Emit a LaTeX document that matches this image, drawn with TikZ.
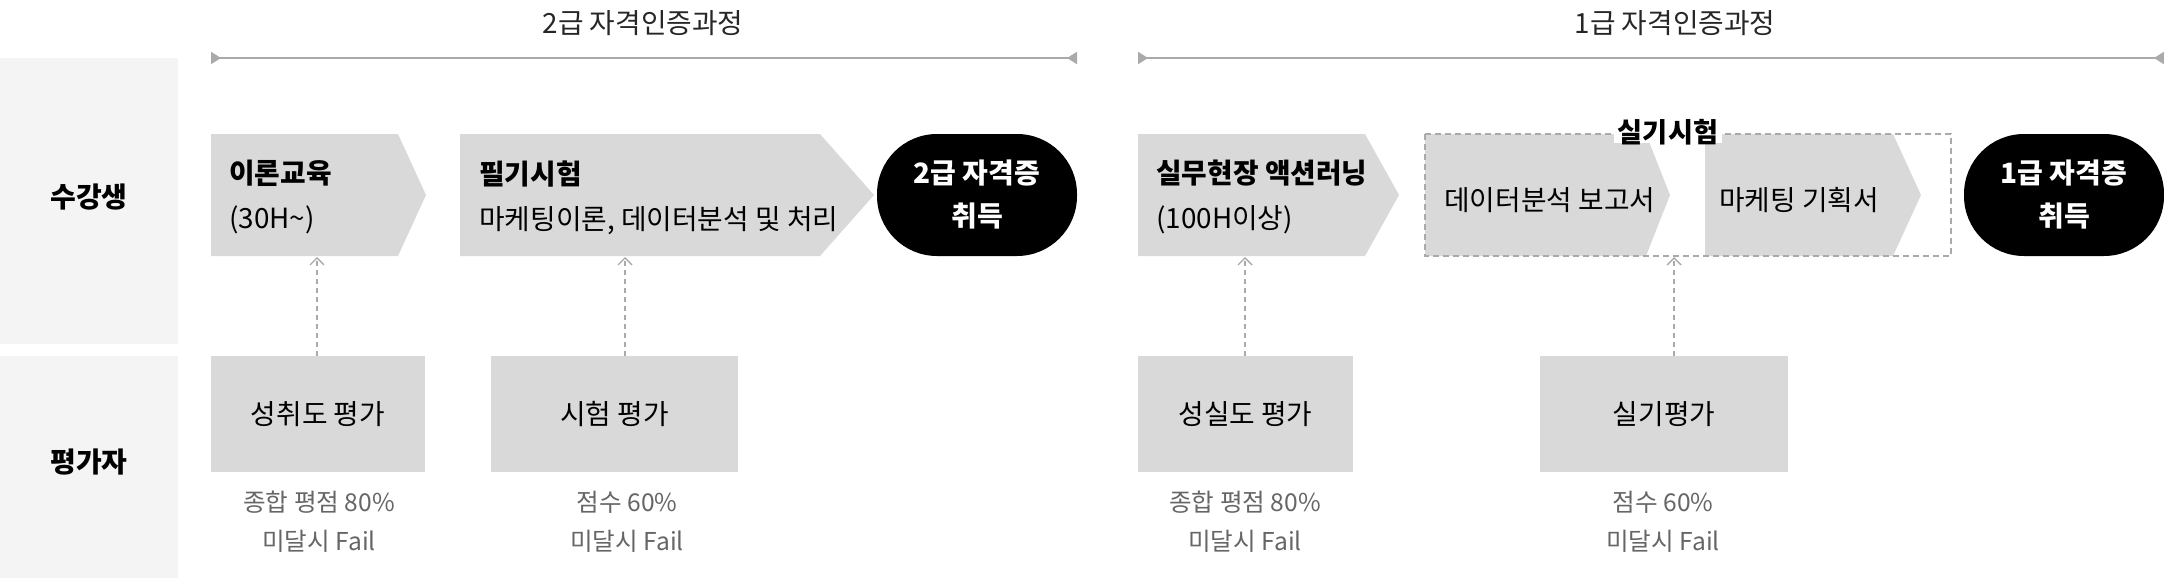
\documentclass[tikz,border=0pt]{standalone}
\usepackage{fontspec}
\setmainfont{Noto Sans CJK KR}
\usetikzlibrary{arrows.meta}
\definecolor{panelgray}{HTML}{F4F4F4}
\definecolor{stepgray}{HTML}{D9D9D9}
\definecolor{linegray}{HTML}{AAAAAA}
\definecolor{notegray}{HTML}{666666}
\begin{document}
\begin{tikzpicture}[x=0.5pt,y=-0.5pt,
   phase/.style={font=\fontsize{13.9}{16}\selectfont,text=black!85},
   rowlabel/.style={font=\fontsize{14}{16}\selectfont\bfseries},
   steptext/.style={anchor=west,align=left,inner sep=0pt,font=\fontsize{13.9}{22.5}\selectfont},
   goal/.style={fill=black,text=white,rounded corners=30pt,minimum width=100pt,minimum height=61pt,
     align=center,inner sep=0pt,font=\fontsize{14}{21.5}\selectfont\bfseries},
   evalbox/.style={fill=stepgray,minimum height=58pt,inner sep=0pt,font=\fontsize{13.9}{16}\selectfont},
   note/.style={align=center,text=notegray,inner sep=0pt,font=\fontsize{12.3}{19.5}\selectfont},
   span/.style={draw=linegray,line width=1pt,
     {Triangle[reversed,length=5pt,width=6pt]}-{Triangle[reversed,length=5pt,width=6pt]}},
   dasharrow/.style={draw=linegray,line width=0.7pt,dash pattern=on 2.5pt off 2pt,
     -{Straight Barb[length=3.5pt,width=7pt]}}]
   \useasboundingbox (0,0) rectangle (2164,578);

   \fill[panelgray] (0,58) rectangle (178,344);
   \fill[panelgray] (0,356) rectangle (178,578);
   \node[rowlabel] (student) at (89,197) {수강생};
   \node[rowlabel] (grader) at (89,462) {평가자};

   \node[phase] (phase2) at (643,23) {2급 자격인증과정};
   \node[phase] (phase1) at (1675,23) {1급 자격인증과정};
   \coordinate (span2a) at (211,58);
   \coordinate (span2b) at (1077,58);
   \coordinate (span1a) at (1138,58);
   \coordinate (span1b) at (2164,58);
   \draw[span] (span2a) -- (span2b);
   \draw[span] (span1a) -- (span1b);

   \fill[stepgray] (211,134) -- (398,134) -- (426,195) -- (398,256) -- (211,256) -- cycle;
   \fill[stepgray] (460,134) -- (820,134) -- (874,195) -- (820,256) -- (460,256) -- cycle;
   \fill[stepgray] (1138,134) -- (1365,134) -- (1399,195) -- (1365,256) -- (1138,256) -- cycle;
   \fill[stepgray] (1425,134) -- (1646,134) -- (1670,195) -- (1646,256) -- (1425,256) -- cycle;
   \fill[stepgray] (1705,134) -- (1893,134) -- (1921,195) -- (1893,256) -- (1705,256) -- cycle;
   \draw[linegray,line width=1pt,dash pattern=on 3pt off 2pt] (1425,134) rectangle (1951,256);
   \node[font=\fontsize{13.6}{16}\selectfont\bfseries,fill=white,inner xsep=2pt,inner ysep=0pt,
     text depth=0pt] (practical) at (1668,131) {실기시험};

   \node[steptext] (theory) at (229,197) {\textbf{이론교육}\\(30H\textasciitilde)};
   \node[steptext] (written) at (479,198) {\textbf{필기시험}\\마케팅이론, 데이터분석 및 처리};
   \node[steptext] (field) at (1156,197) {\textbf{실무현장 액션러닝}\\(100H이상)};
   \node[steptext] (report) at (1444,200) {데이터분석 보고서};
   \node[steptext] (plan) at (1719,200) {마케팅 기획서};

   \node[goal] (grade2) at (977,195) {2급 자격증\\취득};
   \node[goal] (grade1) at (2064,195) {1급 자격증\\취득};

   \node[evalbox,minimum width=107pt] (achieve) at (318,414) {성취도 평가};
   \node[evalbox,minimum width=123.5pt] (exam) at (614.5,414) {시험 평가};
   \node[evalbox,minimum width=107.5pt] (diligence) at (1245.5,414) {성실도 평가};
   \node[evalbox,minimum width=124pt] (practice) at (1664,414) {실기평가};

   \node[note] (note1) at (319,522) {종합 평점 80\%\\미달시 Fail};
   \node[note] (note2) at (627,522) {점수 60\%\\미달시 Fail};
   \node[note] (note3) at (1245,522) {종합 평점 80\%\\미달시 Fail};
   \node[note] (note4) at (1663,522) {점수 60\%\\미달시 Fail};

   \coordinate (up1) at (317,257);
   \coordinate (up2) at (625,257);
   \coordinate (up3) at (1245,257);
   \coordinate (up4) at (1674,257);
   \draw[dasharrow] (up1 |- achieve.north) -- (up1);
   \draw[dasharrow] (up2 |- exam.north) -- (up2);
   \draw[dasharrow] (up3 |- diligence.north) -- (up3);
   \draw[dasharrow] (up4 |- practice.north) -- (up4);
\end{tikzpicture}
\end{document}
